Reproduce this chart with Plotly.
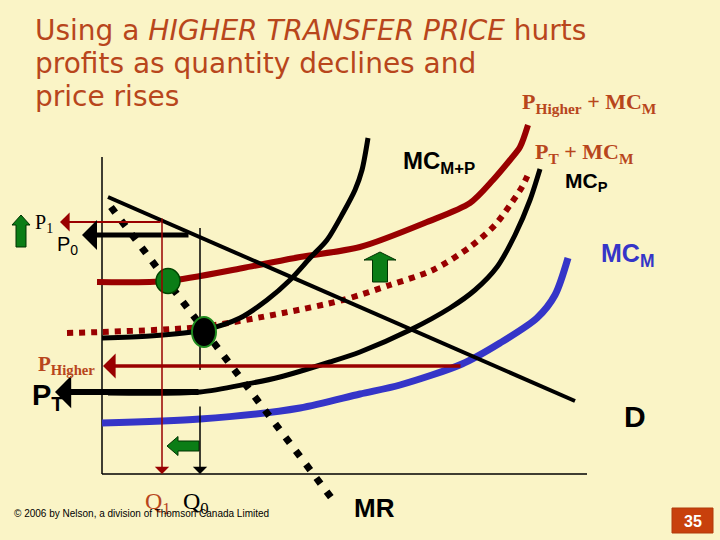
import plotly.graph_objects as go

# ---------------- data (Q = quantity, P = price; origin at axis corner) ----------------
mc_mp_q = [0, 48, 102, 138, 165, 188, 208, 225, 241, 253, 260, 266]
mc_mp_p = [136, 138, 144, 156, 174, 194, 216, 234, 261, 284, 304, 336]

mc_p_q = [6, 98, 145, 178, 228, 258, 308, 348, 373, 395, 413, 428, 438]
mc_p_p = [81, 82, 90, 97, 112, 122, 144, 166, 184, 207, 239, 274, 305]

pt_mcm_q = [-35, 0, 98, 181, 241, 288, 331, 368, 393, 408, 420, 428]
pt_mcm_p = [141, 142, 147, 161, 174, 189, 204, 227, 249, 269, 287, 304]

ph_mcm_q = [-5, 65, 141, 198, 258, 325, 368, 391, 408, 418, 426]
ph_mcm_p = [192, 193, 206, 217, 227, 252, 271, 294, 314, 327, 349]

mc_m_q = [0, 98, 198, 258, 298, 360, 398, 435, 453, 466]
mc_m_p = [51, 55, 66, 80, 89, 110, 131, 156, 179, 216]

demand_q = [6, 473]
demand_p = [277, 73]

mr_q = [9, 231]
mr_p = [267, -26]

# price levels
p1_level = 252
p0_level = 239
p_higher_level = 108
p_t_level = 82
# quantity levels
q1_level = 60
q0_level = 98
# equilibrium points
eq_green = (66, 193)
eq_black = (102, 142)

X0, Y0 = 102, 474  # pixel position of the axis origin in the 720x540 frame

BG = "#FAF4C6"
DARKRED = "#990000"
BROWN = "#B8461C"
BLUE = "#3535C8"
GREEN = "#0B7D16"

fig = go.Figure()


def line(q, p, color, width, dash=None, shape="spline"):
    fig.add_trace(go.Scatter(x=q, y=p, mode="lines", hoverinfo="skip",
                             line=dict(color=color, width=width, dash=dash, shape=shape, smoothing=0.8)))


# axes
line([0, 0], [317, 0], "black", 1.5, shape="linear")
line([0, 485], [0, 0], "black", 1.5, shape="linear")

# curves
line(mc_m_q, mc_m_p, BLUE, 7)
line(mc_p_q, mc_p_p, "black", 5)
line(ph_mcm_q, ph_mcm_p, DARKRED, 6)
line(pt_mcm_q, pt_mcm_p, DARKRED, 6, dash="6px,6px")
line(mc_mp_q, mc_mp_p, "black", 5)
line(demand_q, demand_p, "black", 4, shape="linear")

# Q0 upper segment
line([q0_level, q0_level], [246, 104], "black", 1.5, shape="linear")

annots = []


def arrow(x, y, ax, ay, color, width, size, head=1):
    annots.append(dict(x=x, y=y, ax=ax, ay=ay, xref="x", yref="y", axref="x", ayref="y",
                       text="", showarrow=True, arrowhead=head, arrowsize=size,
                       arrowwidth=width, arrowcolor=color, standoff=0))


arrow(-42, p1_level, q1_level, p1_level, DARKRED, 2, 1.6)
arrow(-20, p0_level, 88, p0_level, "black", 5, 1.0)
arrow(1, p_higher_level, 360, p_higher_level, DARKRED, 3.5, 1.2)
arrow(-47, p_t_level, 98, p_t_level, "black", 6, 0.9)
arrow(q1_level, 0, q1_level, 257, DARKRED, 1.5, 1.6)
arrow(q0_level, 0, q0_level, 69, "black", 1.5, 1.6)

# MR dotted
line(mr_q, mr_p, "black", 7, dash="7px,10px", shape="linear")

# equilibrium dots
shapes = []
gx, gy = eq_green
shapes.append(dict(type="circle", xref="x", yref="y", x0=gx - 12, x1=gx + 12, y0=gy - 12.5, y1=gy + 12.5,
                   fillcolor=GREEN, line=dict(color="#004400", width=1.5)))
bx, by = eq_black
shapes.append(dict(type="circle", xref="x", yref="y", x0=bx - 12, x1=bx + 12, y0=by - 15, y1=by + 15,
                   fillcolor="black", line=dict(color="#1E8A1E", width=2)))


def block_arrow(tip_q, tip_p, direction, length, head_len, head_half, shaft_half):
    if direction == "up":
        pts = [(tip_q, tip_p), (tip_q + head_half, tip_p - head_len), (tip_q + shaft_half, tip_p - head_len),
               (tip_q + shaft_half, tip_p - length), (tip_q - shaft_half, tip_p - length),
               (tip_q - shaft_half, tip_p - head_len), (tip_q - head_half, tip_p - head_len)]
    else:  # left
        pts = [(tip_q, tip_p), (tip_q + head_len, tip_p + head_half), (tip_q + head_len, tip_p + shaft_half),
               (tip_q + length, tip_p + shaft_half), (tip_q + length, tip_p - shaft_half),
               (tip_q + head_len, tip_p - shaft_half), (tip_q + head_len, tip_p - head_half)]
    pts.append(pts[0])
    fig.add_trace(go.Scatter(x=[a for a, _ in pts], y=[b for _, b in pts], mode="lines", fill="toself",
                             fillcolor=GREEN, line=dict(color="#003300", width=1), hoverinfo="skip"))


block_arrow(21 - X0, Y0 - 215, "up", 32, 10, 9, 5)
block_arrow(380 - X0, Y0 - 252, "up", 30, 8, 16, 7.5)
block_arrow(167 - X0, Y0 - 446, "left", 32, 11, 9.5, 5)


# ---------------- text ----------------
def txt(x, y, s, size, color="black", family="Liberation Sans", xanchor="left"):
    annots.append(dict(x=x / 720, y=1 - y / 540, xref="paper", yref="paper", text=s, showarrow=False,
                       xanchor=xanchor, yanchor="middle", font=dict(size=size, color=color, family=family)))


TITLE_FONT = "DejaVu Sans"
txt(33, 30, "Using a <i>HIGHER TRANSFER PRICE</i> hurts", 28, BROWN, TITLE_FONT)
txt(33, 64, "profits as quantity declines and", 28, BROWN, TITLE_FONT)
txt(33, 97, "price rises", 28, BROWN, TITLE_FONT)

SERIF = "Liberation Serif"
txt(520, 103, "<b>P<sub>Higher</sub> + MC<sub>M</sub></b>", 22, BROWN, SERIF)
txt(533, 153, "<b>P<sub>T</sub> + MC<sub>M</sub></b>", 22, BROWN, SERIF)
txt(563, 182, "<b>MC<sub>P</sub></b>", 21, "black")
txt(401, 163, "<b>MC<sub>M+P</sub></b>", 24, "black")
txt(599, 255, "<b>MC<sub>M</sub></b>", 25, BLUE)
txt(622, 416, "<b>D</b>", 30, "black")
txt(352, 508, "<b>MR</b>", 26, "black")

txt(33, 224, "P<sub>1</sub>", 20, "black", SERIF)
txt(55, 245, "P<sub>0</sub>", 20, "black", "Liberation Sans")
txt(36, 365, "<b>P<sub>Higher</sub></b>", 21, BROWN, SERIF)
txt(30, 397, "<b>P<sub>T</sub></b>", 29, "black")
txt(143, 503, "Q<sub>1</sub>", 24, BROWN, SERIF)
txt(181, 503, "Q<sub>0</sub>", 24, "black", SERIF)
txt(12, 513, "© 2006 by Nelson, a division of Thomson Canada Limited", 10, "black")

# page number box
shapes.append(dict(type="rect", xref="paper", yref="paper", x0=672 / 720, x1=713 / 720,
                   y0=1 - 533 / 540, y1=1 - 508 / 540, fillcolor="#C8400C", line=dict(color="#B03A0A", width=1)))
txt(692.5, 521, "<b>35</b>", 16, "white", xanchor="center")

fig.update_layout(
    width=720, height=540, margin=dict(l=0, r=0, t=0, b=0),
    paper_bgcolor=BG, plot_bgcolor=BG, showlegend=False,
    xaxis=dict(range=[-X0, 720 - X0], visible=False, fixedrange=True),
    yaxis=dict(range=[Y0 - 540, Y0], visible=False, fixedrange=True),
    annotations=annots, shapes=shapes,
)
fig.write_html("out.html", config={"displayModeBar": False},
               post_script="document.body.style.margin='0px';document.body.style.background='%s';" % BG)
